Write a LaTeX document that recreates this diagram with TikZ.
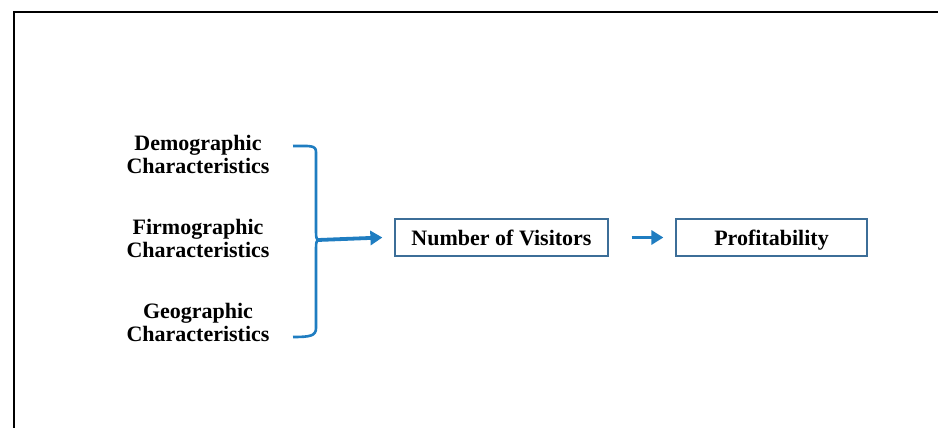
\documentclass[tikz,border=0pt]{standalone}
\usepackage{fontspec}
\setmainfont{Liberation Serif}
\usetikzlibrary{arrows.meta}
\definecolor{bblue}{HTML}{1F7DC1}
\definecolor{boxline}{HTML}{3C6E98}
\begin{document}
\begin{tikzpicture}[x=1pt,y=-1pt,
  lbl/.style={align=center,font=\fontsize{22}{23}\selectfont\bfseries,inner sep=0pt},
  vbox/.style={draw=boxline,line width=1.2pt,minimum height=37pt,inner sep=0pt,text height=19pt,text depth=4pt,font=\fontsize{22}{22}\selectfont\bfseries},
  barrow/.style={draw=bblue,line width=3.8pt,-{Triangle[length=12pt,width=14pt]}}]
\useasboundingbox (0,0) rectangle (938,428);
\fill[white] (0,0) rectangle (938,428);
\draw[line width=1.8pt,black] (14,428) -- (14,12) -- (938,12);
\node[lbl] (demo) at (198,154) {Demographic\\Characteristics};
\node[lbl] (firm) at (198,238) {Firmographic\\Characteristics};
\node[lbl] (geo) at (198,322) {Geographic\\Characteristics};
\node[vbox,minimum width=213pt] (nv) at (501.5,237.5) {Number of Visitors};
\node[vbox,minimum width=191pt] (pr) at (771.5,237.5) {Profitability};
\coordinate (bt) at (293,146);
\coordinate (bc) at (318,240);
\coordinate (bb) at (293,337);
\coordinate (nvin) at ([xshift=-12pt]nv.west);
\coordinate (pa) at ([xshift=23pt]nv.east);
\coordinate (prin) at ([xshift=-12pt]pr.west);
\draw[bblue,line width=2.6pt,line join=round]
  (bt) .. controls (310,146) and (316,145) .. (316,152) -- (316,232)
  .. controls (316,238) and (317,240) .. (bc)
  .. controls (317,240) and (316,242) .. (316,248) -- (316,328)
  .. controls (316,336) and (310,337) .. (bb);
\draw[barrow] (bc) -- (nvin);
\draw[barrow] (pa) -- (prin);
\end{tikzpicture}
\end{document}
